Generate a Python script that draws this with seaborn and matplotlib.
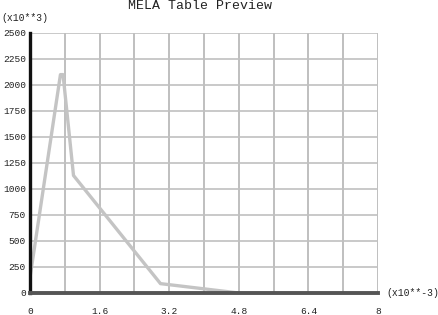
import numpy as np
import pandas as pd
import seaborn as sns
import matplotlib.pyplot as plt

# data (x in 1e-3, y in 1e3)
x_vals = [0.0, 0.7, 0.76, 1.0, 3.0, 4.8]
y_vals = [150, 2100, 2100, 1130, 90, 0]
x_ticks = [0, 1.6, 3.2, 4.8, 6.4, 8]
x_tick_labels = ["0", "1.6", "3.2", "4.8", "6.4", "8"]
y_ticks = [0, 250, 500, 750, 1000, 1250, 1500, 1750, 2000, 2250, 2500]

df = pd.DataFrame({"x": x_vals, "y": y_vals})

sns.set_style("white")
plt.rcParams["font.family"] = ["Liberation Mono", "DejaVu Sans Mono"]

fig = plt.figure(figsize=(4.38, 3.15), dpi=100)
ax = fig.add_axes([30 / 438, 1 - 293 / 315, 348 / 438, 260 / 315])

sns.lineplot(data=df, x="x", y="y", ax=ax, color="#c4c4c4", linewidth=2.4, zorder=3)

ax.set_xlim(0, 8)
ax.set_ylim(0, 2500)
ax.set_xticks(x_ticks)
ax.set_xticklabels(x_tick_labels)
ax.set_xticks(np.arange(0, 8.01, 0.8), minor=True)
ax.set_yticks(y_ticks)
ax.set_yticklabels([str(v) for v in y_ticks])
ax.grid(True, which="both", axis="x", color="#b4b4b4", linewidth=1.2)
ax.grid(True, which="major", axis="y", color="#c0c0c0", linewidth=1.2)
ax.tick_params(which="both", length=0, labelsize=6.8, colors="#222222")
ax.tick_params(axis="x", pad=10)
ax.tick_params(axis="y", pad=3)
ax.set_xlabel("")
ax.set_ylabel("")

for side in ["top", "right"]:
    ax.spines[side].set_visible(False)
ax.spines["left"].set_color("#111111")
ax.spines["left"].set_linewidth(2.4)
ax.spines["bottom"].set_color("#555555")
ax.spines["bottom"].set_linewidth(2.8)
ax.spines["left"].set_zorder(4)
ax.spines["bottom"].set_zorder(4)

fig.text(200 / 438, 1 - 6 / 315, "MELA Table Preview", ha="center", va="center", fontsize=9.5, color="#222222")
fig.text(1 / 438, 1 - 18 / 315, "(x10**3)", ha="left", va="center", fontsize=7, color="#222222")
fig.text(386 / 438, 1 - 293 / 315, "(x10**-3)", ha="left", va="center", fontsize=7, color="#222222")

fig.savefig("out.png", dpi=100)
